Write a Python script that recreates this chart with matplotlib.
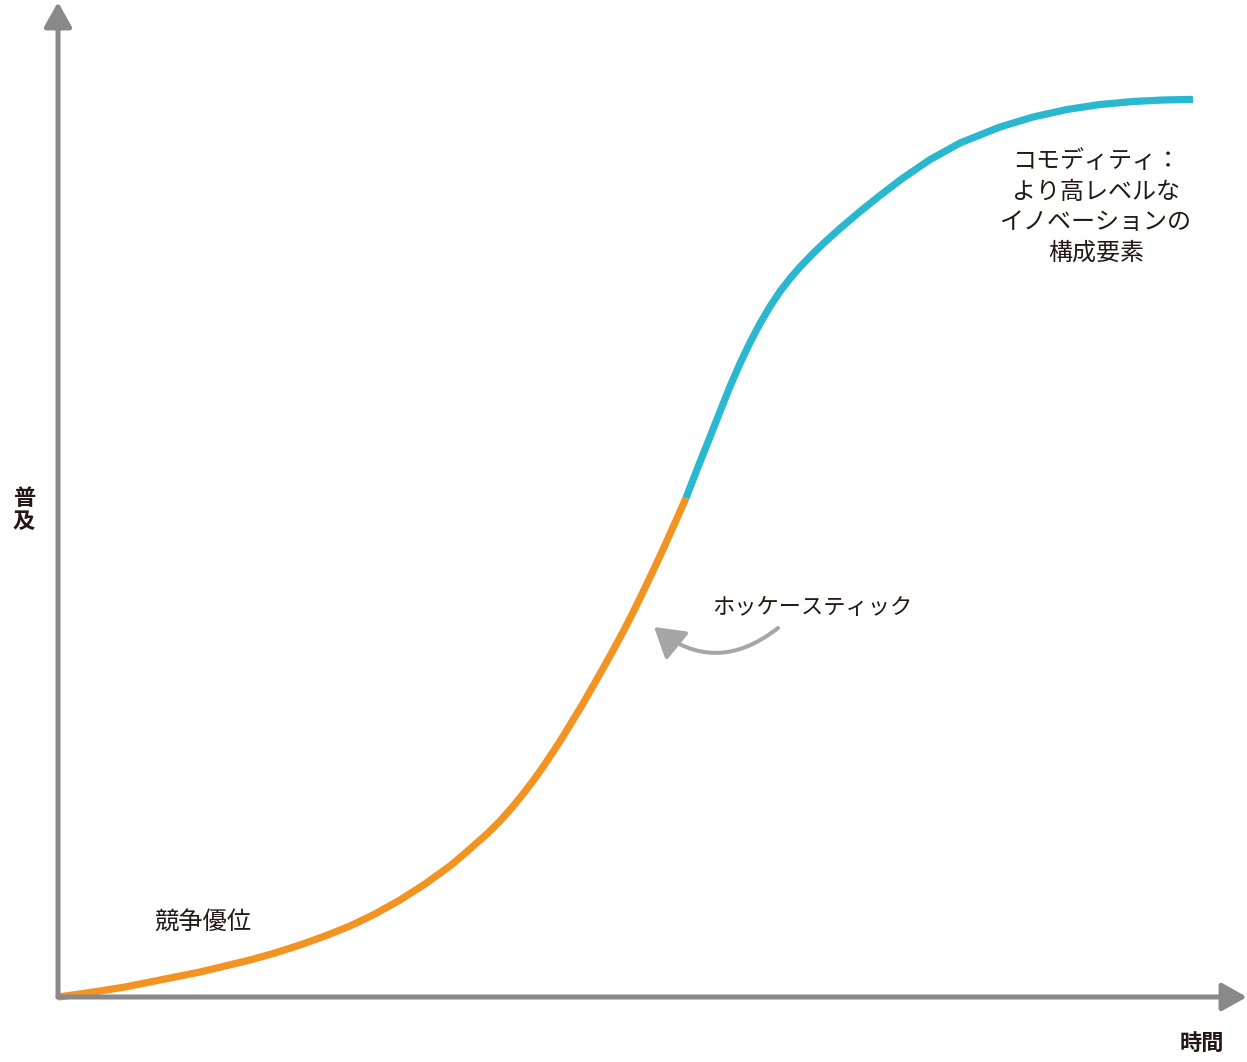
import matplotlib.pyplot as plt
from matplotlib.patches import FancyArrowPatch

plt.rcParams['font.family'] = ['Noto Sans CJK JP', 'DejaVu Sans']

# === データ（時間 / 普及、原点からの距離） ===
# 競争優位の区間（オレンジ）
t_early = [0, 22, 42, 67, 92, 117, 142, 167, 192, 217, 242, 267, 292, 317, 342,
           367, 392, 405, 417, 430, 442, 454, 465, 475, 485, 495, 505, 515, 525,
           535, 545, 555, 565, 575, 585, 595, 605, 616, 628]
p_early = [0, 3, 6, 10, 15, 20, 25, 31, 37, 44, 52, 61, 71, 83, 97,
           113, 131, 142, 152.5, 164, 176, 189.5, 203, 216, 230, 245, 260.5, 277, 293.5,
           311, 328.5, 346.5, 365, 384.5, 405, 426, 447.5, 472, 499]
# コモディティの区間（シアン）
t_late = [628, 640, 652, 662, 672, 682, 692, 702, 712, 722, 732, 742, 754, 767, 782,
          802, 822, 845, 872, 902, 942, 975, 1009, 1042, 1075, 1105, 1135]
p_late = [499, 530, 560, 585.5, 610.5, 633.5, 654.5, 673.5, 690.5, 705.5, 718.5, 730,
          742.5, 755, 768.5, 785.5, 801.5, 819, 837.4, 854, 870, 880, 887.5, 892.5,
          895.5, 897, 897.6]

ORANGE = "#F39321"
CYAN = "#29B8D0"
AXIS_GRAY = "#898989"
ARROW_GRAY = "#A6A6A6"
TEXT = "#231815"

fig = plt.figure(figsize=(12.47, 10.62), dpi=100)
ax = fig.add_axes([0, 0, 1, 1])
ax.set_xlim(-58, 1189)
ax.set_ylim(-65, 997)
ax.axis("off")

# === 軸（矢印） ===
for tip in [(1189, 0), (0, 995)]:
    ax.annotate("", xy=tip, xytext=(0, 0),
                arrowprops=dict(arrowstyle="-|>,head_length=0.75,head_width=0.42",
                                mutation_scale=20, color=AXIS_GRAY, lw=3.6,
                                shrinkA=0, shrinkB=0))

# === S字カーブ ===
ax.plot(t_early, p_early, color=ORANGE, lw=5.2, solid_capstyle="butt", solid_joinstyle="round")
ax.plot(t_late, p_late, color=CYAN, lw=5.2, solid_capstyle="butt", solid_joinstyle="round")

# === ラベル ===
ax.text(-34, 487, "普\n及", ha="center", va="center", fontsize=16, fontweight="bold",
        color=TEXT, linespacing=1.0)
ax.text(1144, -46, "時間", ha="center", va="center", fontsize=16, fontweight="bold", color=TEXT)
ax.text(145, 75, "競争優位", ha="center", va="center", fontsize=17.5, color=TEXT)
ax.text(754, 390, "ホッケースティック", ha="center", va="center", fontsize=16, color=TEXT)
ax.text(1038, 790, "コモディティ：\nより高レベルな\nイノベーションの\n構成要素", ha="center", va="center",
        fontsize=17.3, color=TEXT, linespacing=1.23)

# ホッケースティックの矢印
arr = FancyArrowPatch((720, 369), (596, 370), connectionstyle="arc3,rad=-0.4",
                      arrowstyle="-|>,head_length=0.9,head_width=0.55", mutation_scale=20,
                      color=ARROW_GRAY, lw=2.9, shrinkA=0, shrinkB=0)
ax.add_patch(arr)

fig.savefig("out.png", dpi=100)
